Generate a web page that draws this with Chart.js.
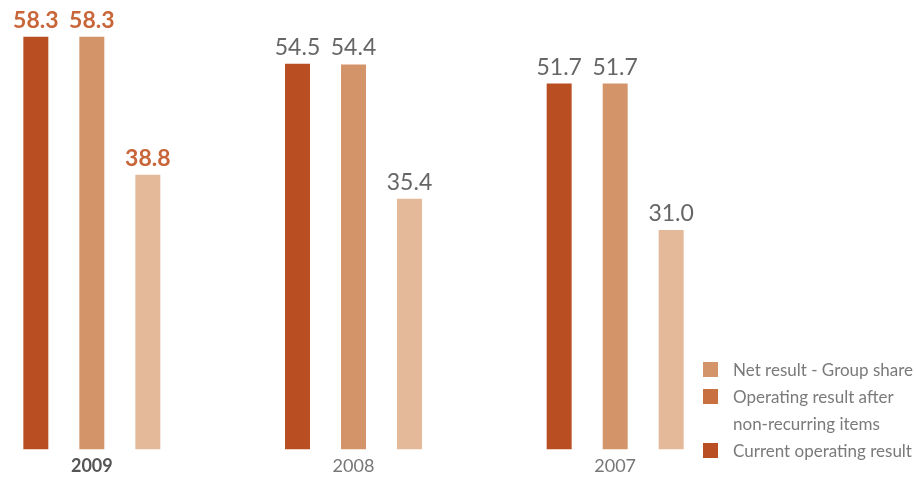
<!DOCTYPE html>
<html>
<head>
<meta charset="utf-8">
<script src="https://cdn.jsdelivr.net/npm/chart.js@4"></script>
<style>
  html, body { margin: 0; padding: 0; background: #fff; overflow: hidden; }
  body { width: 916px; height: 477px; position: relative; font-family: Lato, "Open Sans", sans-serif; }
  #wrap { position: absolute; left: -39px; top: 0; width: 785px; height: 483px; }
  #legend { position: absolute; left: 703px; top: 356px; color: #7a7a7a; font-size: 17px; line-height: 27px; }
  #legend .row { position: relative; padding-left: 30px; white-space: nowrap; }
  #legend .sw { position: absolute; left: 0; top: 6px; width: 15px; height: 15px; }
</style>
</head>
<body>
<div id="wrap"><canvas id="c"></canvas></div>
<div id="legend"></div>
<script>
const categories = ["2009", "2008", "2007"];
const currentOperating = [58.3, 54.5, 51.7];
const operatingAfterNonRecurring = [58.3, 54.4, 51.7];
const netResultGroup = [38.8, 35.4, 31.0];
const legendLabels = [["Net result - Group share"], ["Operating result after", "non-recurring items"], ["Current operating result"]];

const barColors = ["#b84e21", "#d4946a", "#e4b999"];
const legendColors = ["#d4946a", "#c8703f", "#b84e21"];

const valueLabels = {
  id: 'valueLabels',
  afterDatasetsDraw(chart) {
    const ctx = chart.ctx;
    ctx.save();
    ctx.textAlign = 'center';
    ctx.textBaseline = 'alphabetic';
    chart.data.datasets.forEach((ds, di) => {
      const meta = chart.getDatasetMeta(di);
      meta.data.forEach((bar, i) => {
        const first = i === 0;
        ctx.font = (first ? 'bold ' : '') + '23px Lato, "Open Sans", sans-serif';
        ctx.fillStyle = first ? '#c8663a' : '#666666';
        ctx.fillText(ds.data[i].toFixed(1), bar.x, bar.y - 9);
      });
    });
    ctx.restore();
  }
};

new Chart(document.getElementById('c'), {
  type: 'bar',
  data: {
    labels: categories,
    datasets: [
      { label: 'Current operating result', data: currentOperating, backgroundColor: barColors[0] },
      { label: 'Operating result after non-recurring items', data: operatingAfterNonRecurring, backgroundColor: barColors[1] },
      { label: 'Net result - Group share', data: netResultGroup, backgroundColor: barColors[2] }
    ]
  },
  options: {
    responsive: true,
    maintainAspectRatio: false,
    animation: false,
    layout: { padding: { top: 0, bottom: 0, left: 0, right: 0 } },
    datasets: { bar: { categoryPercentage: 0.642, barPercentage: 0.446 } },
    plugins: { legend: { display: false }, tooltip: { enabled: false } },
    scales: {
      x: {
        grid: { display: false, drawTicks: false, tickLength: 0 },
        border: { display: false },
        ticks: {
          padding: 6,
          maxRotation: 0,
          color: (c) => c.index === 0 ? '#555555' : '#777777',
          font: (c) => ({ family: 'Lato, "Open Sans", sans-serif', size: 18, weight: c.index === 0 ? 'bold' : 'normal' })
        }
      },
      y: { display: false, min: 0, max: 63.5 }
    }
  },
  plugins: [valueLabels]
});

const lg = document.getElementById('legend');
legendLabels.forEach((lines, i) => {
  const row = document.createElement('div');
  row.className = 'row';
  const sw = document.createElement('span');
  sw.className = 'sw';
  sw.style.background = legendColors[i];
  row.appendChild(sw);
  lines.forEach((t) => {
    const d = document.createElement('div');
    d.textContent = t;
    row.appendChild(d);
  });
  lg.appendChild(row);
});
</script>
</body>
</html>
